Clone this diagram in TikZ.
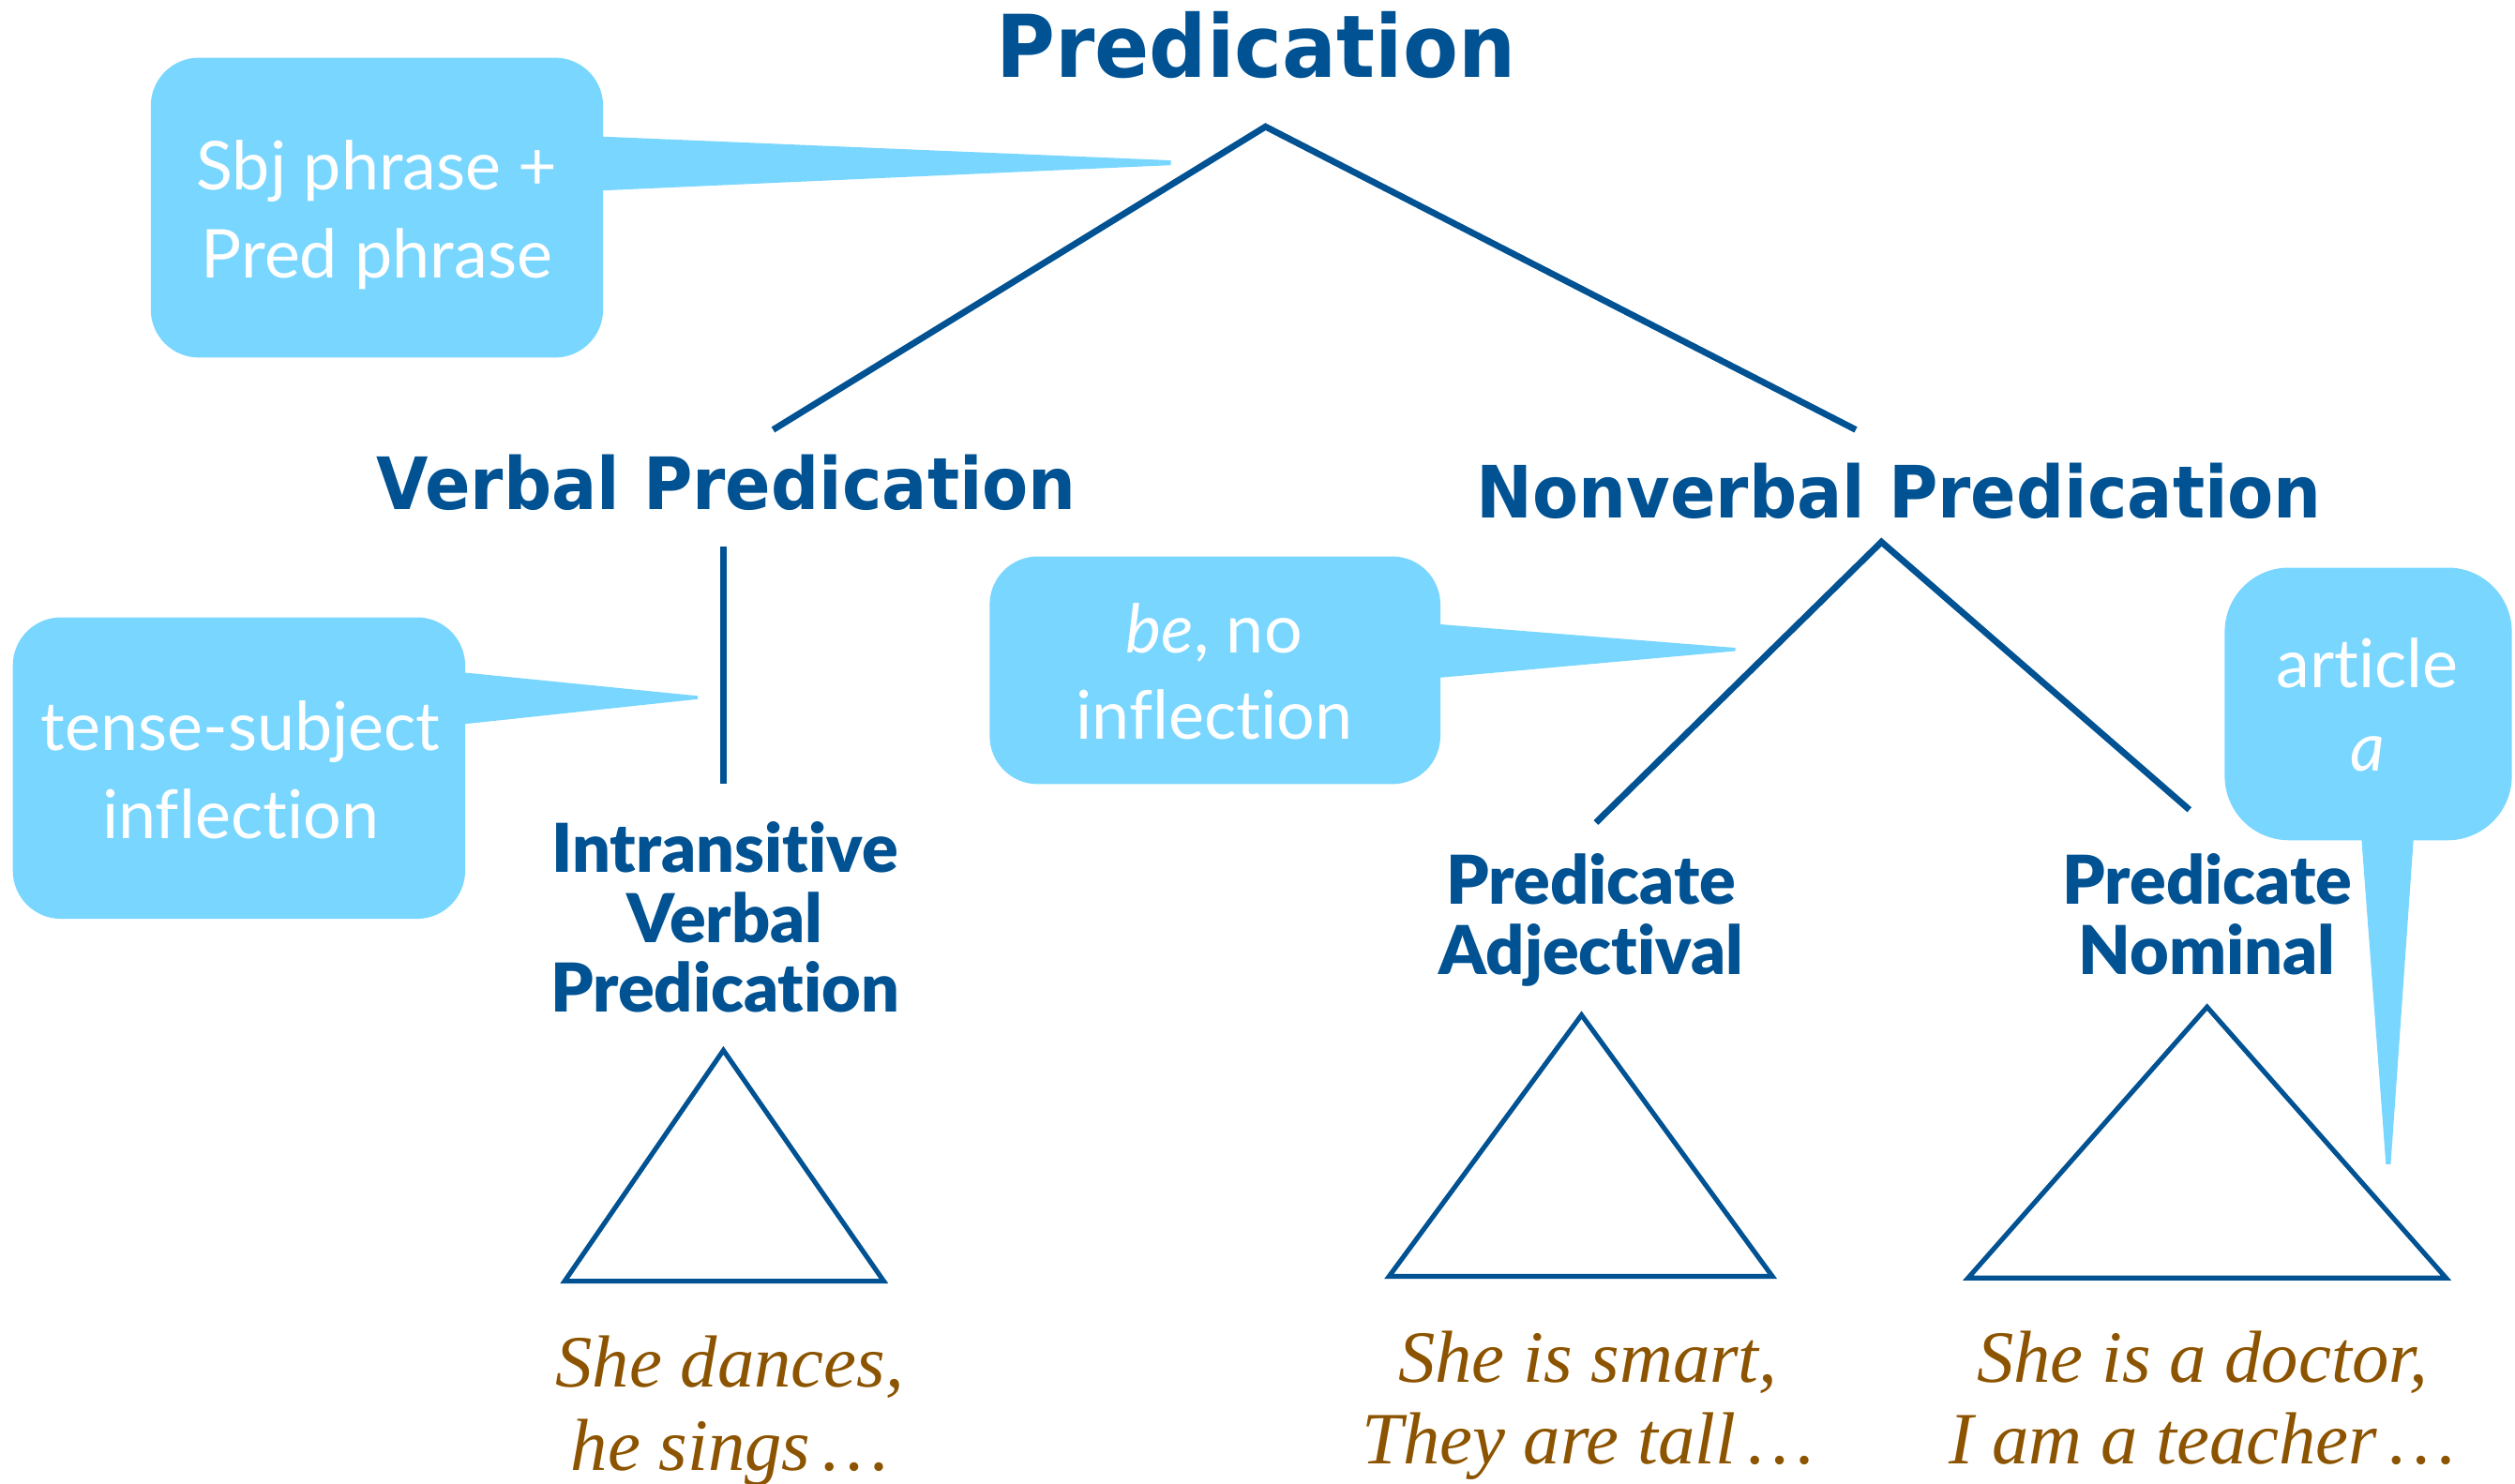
\documentclass[tikz,border=0pt]{standalone}
\usepackage{fontspec}
\newfontfamily\headfont{DejaVu Sans}[FakeStretch=0.93]
\newfontfamily\labfont{Lato}[Ligatures=NoCommon]
\newfontfamily\subfont{Lato Black}[Ligatures=NoCommon]
\newfontfamily\exfont{Liberation Serif}
\usetikzlibrary{calc}

\definecolor{treeblue}{RGB}{0,82,147}
\definecolor{callblue}{RGB}{121,214,255}
\definecolor{exbrown}{RGB}{140,84,0}

\begin{document}
\begin{tikzpicture}[x=1pt,y=-1pt,
  headtxt/.style={font=\headfont\bfseries\fontsize{45}{50}\selectfont, text=treeblue, anchor=base, inner sep=0},
  toptitle/.style={headtxt, font=\headfont\bfseries\fontsize{54}{60}\selectfont},
  subtxt/.style={font=\subfont\fontsize{42}{44}\selectfont, text=treeblue, anchor=base, inner sep=0},
  calltxt/.style={font=\labfont\fontsize{42}{50}\selectfont, text=white, anchor=base, inner sep=0},
  extxt/.style={font=\exfont\itshape\fontsize{46}{50}\selectfont, text=exbrown, anchor=base, inner sep=0},
  callbox/.style={fill=callblue, rounded corners=30, inner sep=0, draw=none},
  branch/.style={draw=treeblue, line width=4},
  tristyle/.style={draw=treeblue, line width=3},
]
\useasboundingbox (0,0) rectangle (1568,925);

% speech-bubble boxes
\node[callbox, minimum width=282, minimum height=187] (c1) at (235,129.5) {};
\node[callbox, minimum width=282, minimum height=188] (c2) at (149,479) {};
\node[callbox, minimum width=281, minimum height=142] (c3) at (757.5,418) {};
\node[callbox, rounded corners=40, minimum width=179, minimum height=170] (c4) at (1476.5,439) {};

% bubble pointers
\coordinate (tipA) at (730,101.5);
\coordinate (tipB) at (435,435);
\coordinate (tipC) at (1082,405);
\coordinate (tipD) at (1489,726);
\fill[callblue] ($(c1.east)+(-5,-44.5)$) -- ($(tipA)+(0,-1.5)$) -- ($(tipA)+(0,1.5)$) -- ($(c1.east)+(-5,-10.5)$) -- cycle;
\fill[callblue] ($(c2.east)+(-5,-60)$) -- ($(tipB)+(0,-1)$) -- ($(tipB)+(0,1)$) -- ($(c2.east)+(-5,-27)$) -- cycle;
\fill[callblue] ($(c3.east)+(-5,-29)$) -- ($(tipC)+(0,-1)$) -- ($(tipC)+(0,1)$) -- ($(c3.east)+(-5,5)$) -- cycle;
\fill[callblue] ($(c4.south)+(-4.5,-5)$) -- ($(tipD)+(-1.5,0)$) -- ($(tipD)+(1.5,0)$) -- ($(c4.south)+(28.5,-5)$) -- cycle;

% bubble texts
\node[calltxt] (c1a) at (235,118.6) {Sbj phrase +};
\node[calltxt] (c1b) at (235,173.4) {Pred phrase};
\node[calltxt] (c2a) at (150,468) {tense-subject};
\node[calltxt] (c2b) at (150,523) {inflection};
\node[calltxt] (c3a) at (757,407) {\textit{be}, no};
\node[calltxt] (c3b) at (757,461) {inflection};
\node[calltxt] (c4a) at (1476,429) {article};
\node[calltxt] (c4b) at (1476,481) {\textit{a}};

% tree labels
\node[toptitle] (root) at (783,48) {Predication};
\node[headtxt] (vp) at (453,318) {Verbal Predication};
\node[headtxt] (nvp) at (1184,323) {Nonverbal Predication};
\node[subtxt] (ivpa) at (452,544) {Intransitive};
\node[subtxt] (ivpb) at (452,588) {Verbal};
\node[subtxt] (ivpc) at (452,631) {Predication};
\node[subtxt] (adja) at (992,564) {Predicate};
\node[subtxt] (adjb) at (992,608) {Adjectival};
\node[subtxt] (noma) at (1376,564) {Predicate};
\node[subtxt] (nomb) at (1376,608) {Nominal};

% branches
\coordinate (rootA) at (789,79);
\coordinate (vpTop) at (482,268);
\coordinate (nvTop) at (1157,268);
\draw[branch] (vpTop) -- (rootA) -- (nvTop);
\coordinate (vpA) at (451,341);
\coordinate (vpB) at (451,489);
\draw[branch] (vpA) -- (vpB);
\coordinate (nvA) at (1173,338);
\coordinate (adjTop) at (995,513);
\coordinate (nomTop) at (1365,505);
\draw[branch] (adjTop) -- (nvA) -- (nomTop);

% collapsed subtrees
\coordinate (t1a) at (451,655);
\coordinate (t1b) at (352,799);
\coordinate (t1c) at (551,799);
\draw[tristyle] (t1a) -- (t1b) -- (t1c) -- cycle;
\coordinate (t2a) at (986,633);
\coordinate (t2b) at (866,796);
\coordinate (t2c) at (1105,796);
\draw[tristyle] (t2a) -- (t2b) -- (t2c) -- cycle;
\coordinate (t3a) at (1376,628);
\coordinate (t3b) at (1227,797);
\coordinate (t3c) at (1525,797);
\draw[tristyle] (t3a) -- (t3b) -- (t3c) -- cycle;

% examples
\node[extxt] (ex1a) at (455,865) {She dances,};
\node[extxt] (ex1b) at (455,917) {he sings\,\ldots};
\node[extxt] (ex2a) at (990,862) {She is smart,};
\node[extxt] (ex2b) at (990,913) {They are tall\,\ldots};
\node[extxt] (ex3a) at (1373,862) {She is a doctor,};
\node[extxt] (ex3b) at (1373,913) {I am a teacher\,\ldots};
\end{tikzpicture}
\end{document}
